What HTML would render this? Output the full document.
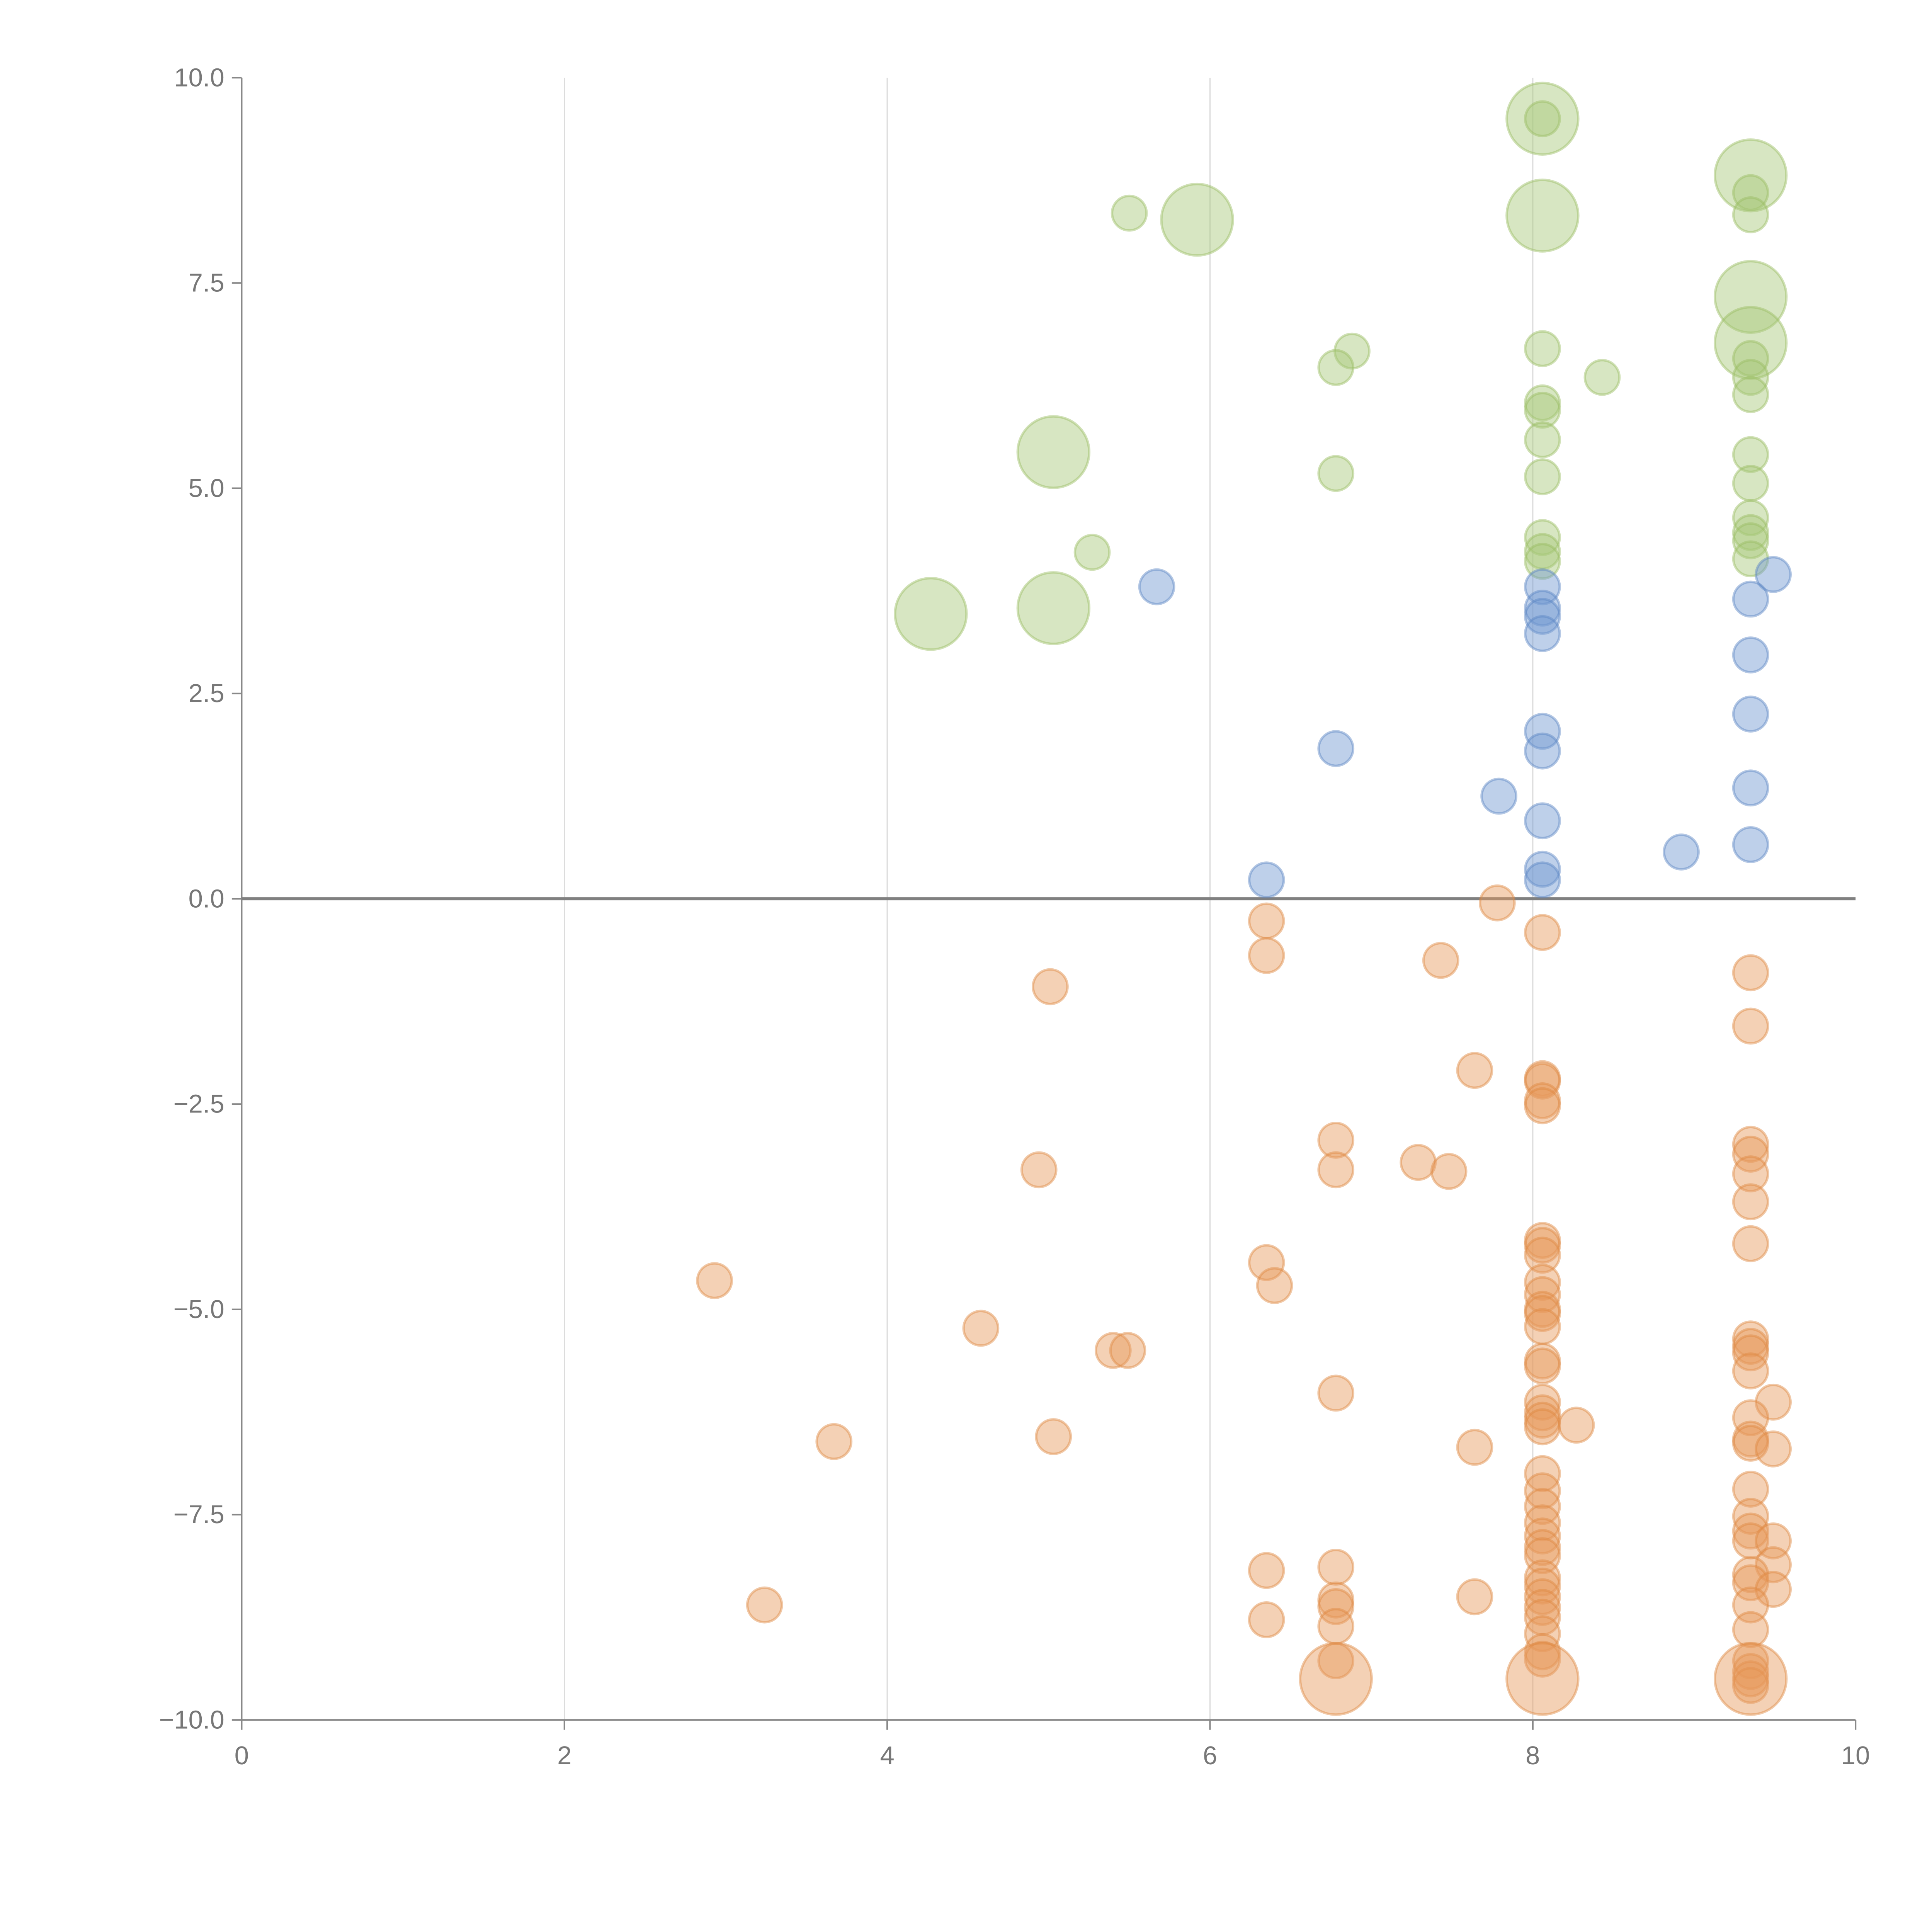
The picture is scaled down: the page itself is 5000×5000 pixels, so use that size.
<!DOCTYPE html>
<html><head><meta charset="utf-8"><style>html,body{margin:0;padding:0;background:#fff}svg{display:block}</style></head>
<body>
<svg id="chart" width="5000" height="5000" viewBox="0 0 1567 1567" xmlns="http://www.w3.org/2000/svg" font-family="'Liberation Sans', sans-serif">
<g id="grid"></g>
<g id="axes"></g>
<g id="marks"></g>
</svg>
<script>
const xTicks = [0, 2, 4, 6, 8, 10];
const yTicks = [10, 7.5, 5, 2.5, 0, -2.5, -5, -7.5, -10];
const yTickLabels = ["10.0", "7.5", "5.0", "2.5", "0.0", "\u22122.5", "\u22125.0", "\u22127.5", "\u221210.0"];

const greenX = [5.50,5.92,8.06,8.06,8.06,9.35,9.35,9.35,9.35,9.35,9.35,9.35,9.35,8.06,6.88,6.78,8.43,8.06,8.06,8.06,5.03,9.35,6.78,8.06,9.35,9.35,9.35,8.06,9.35,8.06,5.27,9.35,8.06,4.27,5.03];
const greenY = [8.35,8.27,9.50,9.50,8.32,8.81,8.60,8.33,7.33,6.77,6.58,6.35,6.14,6.70,6.67,6.47,6.35,6.04,5.95,5.59,5.44,5.41,5.18,5.14,5.06,4.64,4.46,4.40,4.36,4.23,4.22,4.14,4.11,3.47,3.54];
const greenBig = [0,1,1,0,1,1,0,0,1,1,0,0,0,0,0,0,0,0,0,0,1,0,0,0,0,0,0,0,0,0,0,0,0,1,1];

const blueX = [5.67,9.49,8.06,9.35,8.06,8.06,8.06,9.35,9.35,8.06,8.06,6.78,7.79,9.35,8.06,8.92,9.35,8.06,8.06,6.35];
const blueY = [3.80,3.95,3.80,3.65,3.54,3.44,3.23,2.97,2.25,2.04,1.80,1.83,1.25,1.35,0.95,0.57,0.66,0.36,0.23,0.23];

const orangeX = [7.78,6.35,8.06,6.35,7.43,5.01,9.35,9.35,7.64,8.06,8.06,8.06,8.06,6.78,9.35,9.35,7.29,4.94,6.78,7.48,9.35,9.35,8.06,8.06,8.06,9.35,6.35,2.93,6.40,8.06,8.06,8.06,8.06,8.06,4.58,9.35,9.35,9.35,5.40,5.49,8.06,8.06,9.35,6.78,8.06,9.49,8.06,9.35,8.06,8.06,8.27,5.03,9.35,9.35,3.67,7.64,9.49,8.06,9.35,8.06,8.06,9.35,8.06,9.35,8.06,9.35,9.49,8.06,8.06,9.49,6.78,6.35,9.35,8.06,9.35,8.06,9.49,7.64,8.06,6.78,8.06,6.78,3.24,9.35,8.06,6.35,6.78,9.35,8.06,8.06,8.06,6.78,9.35,9.35,9.35,9.35,6.78,8.06,9.35];
const orangeY = [-0.05,-0.27,-0.41,-0.69,-0.75,-1.07,-0.90,-1.55,-2.09,-2.19,-2.22,-2.46,-2.52,-2.94,-2.99,-3.11,-3.21,-3.30,-3.30,-3.32,-3.35,-3.69,-4.16,-4.22,-4.34,-4.20,-4.43,-4.65,-4.71,-4.67,-4.82,-5.00,-5.05,-5.21,-5.23,-5.36,-5.45,-5.53,-5.50,-5.50,-5.63,-5.69,-5.75,-6.02,-6.13,-6.13,-6.26,-6.32,-6.35,-6.43,-6.41,-6.55,-6.58,-6.63,-6.61,-6.68,-6.70,-7.00,-7.19,-7.21,-7.40,-7.52,-7.60,-7.70,-7.76,-7.82,-7.82,-7.90,-8.00,-8.11,-8.14,-8.18,-8.23,-8.27,-8.33,-8.37,-8.41,-8.50,-8.50,-8.54,-8.63,-8.62,-8.60,-8.60,-8.75,-8.78,-8.86,-8.90,-8.95,-9.17,-9.26,-9.28,-9.28,-9.41,-9.50,-9.58,-9.50,-9.50,-9.50];
const orangeBig = [0,0,0,0,0,0,0,0,0,0,0,0,0,0,0,0,0,0,0,0,0,0,0,0,0,0,0,0,0,0,0,0,0,0,0,0,0,0,0,0,0,0,0,0,0,0,0,0,0,0,0,0,0,0,0,0,0,0,0,0,0,0,0,0,0,0,0,0,0,0,0,0,0,0,0,0,0,0,0,0,0,0,0,0,0,0,0,0,0,0,0,0,0,0,0,0,1,1,1];

const NS = "http://www.w3.org/2000/svg";
const X0 = 196, X1 = 1505, Y0 = 1395, Y1 = 63;
function sx(v) { return X0 + (v - 0) / 10 * (X1 - X0); }
function sy(v) { return Y0 - (v + 10) / 20 * (Y0 - Y1); }
function mk(tag, attrs, parent) {
  const e = document.createElementNS(NS, tag);
  for (const k in attrs) e.setAttribute(k, attrs[k]);
  parent.appendChild(e);
  return e;
}
const grid = document.getElementById('grid');
const axes = document.getElementById('axes');
const marks = document.getElementById('marks');

xTicks.forEach(function (t) {
  if (t > 0 && t < 10) {
    const g = mk('line', {x1: sx(t), x2: sx(t), y1: Y1, y2: Y0, stroke: '#dcdcdc', 'stroke-width': 1}, grid);
    
    
  }
  const tk = mk('line', {x1: sx(t), x2: sx(t), y1: Y0, y2: Y0 + 8, stroke: '#888', 'stroke-width': 1.3}, axes);
  
  
  const tl = mk('text', {x: sx(t), y: Y0 + 36, 'text-anchor': 'middle', 'font-size': 21, fill: '#777'}, axes);
  tl.textContent = String(t);
  
  
});
yTicks.forEach(function (t, i) {
  const tk = mk('line', {x1: X0 - 8, x2: X0, y1: sy(t), y2: sy(t), stroke: '#888', 'stroke-width': 1.3}, axes);
  
  
  const tl = mk('text', {x: X0 - 14, y: sy(t) + 7, 'text-anchor': 'end', 'font-size': 21, fill: '#777'}, axes);
  tl.textContent = yTickLabels[i];
  
  
});
const ya = mk('line', {x1: X0, x2: X0, y1: Y1, y2: Y0, stroke: '#888', 'stroke-width': 1.3}, axes);


const xa = mk('line', {x1: X0, x2: X1, y1: Y0, y2: Y0, stroke: '#888', 'stroke-width': 1.3}, axes);



function drawSeries(xs, ys, bigs, fill, stroke, name) {
  xs.forEach(function (x, i) {
    const big = bigs ? bigs[i] : 0;
    const c = mk('circle', {cx: sx(x), cy: sy(ys[i]), r: big ? 29 : 14, fill: fill, 'fill-opacity': 0.45, stroke: stroke, 'stroke-opacity': 0.45, 'stroke-width': 2}, marks);
    
    
  });
}
drawSeries(greenX, greenY, greenBig, '#a6c777', '#98bd62', 'green-bubble');
drawSeries(blueX, blueY, null, '#6e97d0', '#5a86c4', 'blue-bubble');
drawSeries(orangeX, orangeY, orangeBig, '#e6995a', '#de8840', 'orange-bubble');

const zl = mk('line', {x1: X0, x2: X1, y1: sy(0), y2: sy(0), stroke: '#808080', 'stroke-width': 2.5}, axes);


</script>
</body></html>
